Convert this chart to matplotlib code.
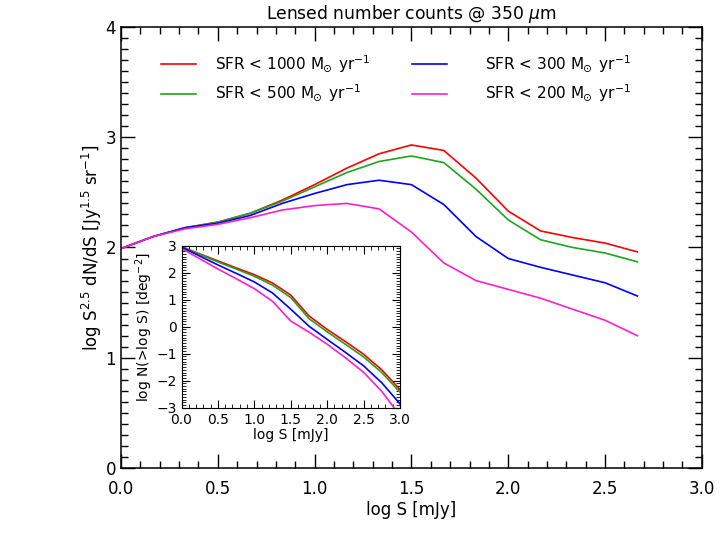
import numpy as np
import matplotlib
matplotlib.use('Agg')
import matplotlib.pyplot as plt
from matplotlib.ticker import MultipleLocator

# main panel: log S^2.5 dN/dS vs log S
logS = [0.0, 0.167, 0.333, 0.5, 0.667, 0.833, 1.0, 1.167, 1.333, 1.5,
        1.667, 1.833, 2.0, 2.167, 2.333, 2.5, 2.667]
sfr1000 = [1.99, 2.10, 2.18, 2.23, 2.31, 2.43, 2.57, 2.72, 2.85, 2.93,
           2.88, 2.63, 2.33, 2.15, 2.09, 2.04, 1.96]
sfr500 = [1.99, 2.10, 2.18, 2.23, 2.31, 2.42, 2.55, 2.68, 2.78, 2.83,
          2.77, 2.53, 2.25, 2.07, 2.00, 1.95, 1.87]
sfr300 = [1.99, 2.10, 2.18, 2.22, 2.29, 2.40, 2.49, 2.57, 2.61, 2.57,
          2.39, 2.10, 1.90, 1.82, 1.75, 1.68, 1.56]
sfr200 = [1.99, 2.10, 2.17, 2.21, 2.27, 2.34, 2.38, 2.40, 2.35, 2.14,
          1.86, 1.70, 1.62, 1.54, 1.44, 1.34, 1.20]

# inset: cumulative counts log N(>S)
logS_in = [0.0, 0.25, 0.5, 0.75, 1.0, 1.25, 1.5, 1.75, 2.0, 2.25, 2.5, 2.75, 3.0]
cum1000 = [2.97, 2.70, 2.44, 2.18, 1.93, 1.62, 1.17, 0.40, -0.10, -0.55, -1.02, -1.60, -2.33]
cum500 = [2.96, 2.68, 2.40, 2.14, 1.87, 1.54, 1.08, 0.30, -0.19, -0.65, -1.12, -1.70, -2.43]
cum300 = [2.95, 2.62, 2.29, 1.98, 1.66, 1.25, 0.65, 0.02, -0.47, -0.95, -1.45, -2.08, -2.86]
cum200 = [2.90, 2.52, 2.14, 1.78, 1.41, 0.94, 0.21, -0.20, -0.65, -1.15, -1.69, -2.40, -3.30]

labels = [r'SFR < 1000 $\mathregular{M}_{\!\!\odot}$ yr$^{-1}$',
          r'SFR < 500 $\mathregular{M}_{\!\!\odot}$ yr$^{-1}$',
          r'SFR < 300 $\mathregular{M}_{\!\!\odot}$ yr$^{-1}$',
          r'SFR < 200 $\mathregular{M}_{\!\!\odot}$ yr$^{-1}$']
colors = ['#ff0000', '#1ea51e', '#0000ff', '#ff1fcc']

plt.rcParams['font.family'] = 'DejaVu Sans'
plt.rcParams['mathtext.fontset'] = 'dejavusans'

fig = plt.figure(figsize=(7.26, 5.45), dpi=100)
ax = fig.add_axes([0.1667, 0.1413, 0.800, 0.8092])

lines = []
for ys, c, lab in zip([sfr1000, sfr500, sfr300, sfr200], colors, labels):
    ln, = ax.plot(logS, ys, color=c, lw=1.2, label=lab)
    lines.append(ln)

ax.set_xlim(0, 3)
ax.set_ylim(0, 4)
ax.xaxis.set_major_locator(MultipleLocator(0.5))
ax.xaxis.set_minor_locator(MultipleLocator(0.1))
ax.yaxis.set_major_locator(MultipleLocator(1))
ax.yaxis.set_minor_locator(MultipleLocator(0.1))
ax.xaxis.set_major_formatter(plt.FormatStrFormatter('%.1f'))
ax.tick_params(which='both', direction='in', top=True, right=True, labelsize=12)
ax.tick_params(which='major', length=10, width=1)
ax.tick_params(which='minor', length=5, width=1)
ax.tick_params(axis='x', pad=9)
for s in ax.spines.values():
    s.set_linewidth(1.1)
ax.set_xlabel('log S [mJy]', fontsize=12, labelpad=2)
ax.set_ylabel(r'log S$^{2.5}$ dN/dS [Jy$^{1.5}$ sr$^{-1}$]', fontsize=12, labelpad=1)
ax.set_title(r'Lensed number counts @ 350 $\mu$m', fontsize=12.3, pad=6)

# two legend columns, placed separately
leg1 = ax.legend(lines[:2], labels[:2], loc='upper left', bbox_to_anchor=(0.069, 0.94),
                 frameon=False, fontsize=11, handlelength=2.3, handletextpad=1.25,
                 labelspacing=0.55, borderpad=0, borderaxespad=0)
ax.add_artist(leg1)
ax.legend(lines[2:], labels[2:], loc='upper left', bbox_to_anchor=(0.501, 0.94),
          frameon=False, fontsize=11, handlelength=2.3, handletextpad=2.45,
          labelspacing=0.55, borderpad=0, borderaxespad=0)

# inset
axin = fig.add_axes([0.250, 0.252, 0.301, 0.297])
for ys, c in zip([cum1000, cum500, cum300, cum200], colors):
    axin.plot(logS_in, ys, color=c, lw=1.2)
axin.set_xlim(0, 3)
axin.set_ylim(-3.0, 3.0)
axin.xaxis.set_major_locator(MultipleLocator(0.5))
axin.xaxis.set_minor_locator(MultipleLocator(0.1))
axin.yaxis.set_major_locator(MultipleLocator(1))
axin.yaxis.set_minor_locator(MultipleLocator(0.1))
axin.xaxis.set_major_formatter(plt.FormatStrFormatter('%.1f'))
axin.tick_params(which='both', direction='in', top=True, right=True, labelsize=10)
axin.tick_params(which='major', length=6)
axin.tick_params(which='minor', length=3)
axin.set_xlabel('log S [mJy]', fontsize=10, labelpad=1)
axin.set_ylabel(r'log N(>log S) [deg$^{-2}$]', fontsize=10, labelpad=1)

fig.savefig('out.png', dpi=100)
